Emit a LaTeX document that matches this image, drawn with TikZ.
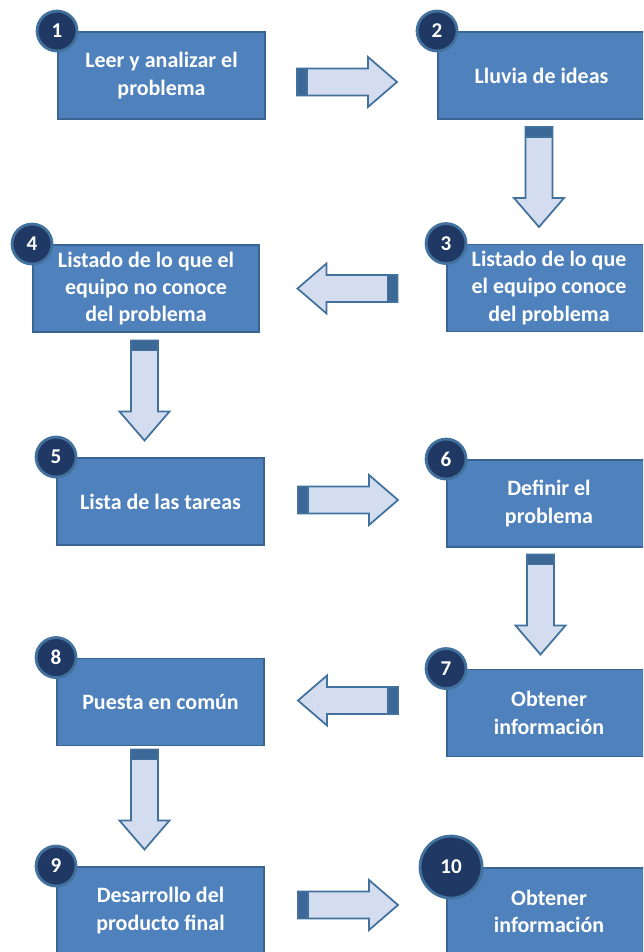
\documentclass[tikz,border=0pt]{standalone}
\usepackage{fontspec}
\setmainfont{Carlito}
\usetikzlibrary{calc}
\definecolor{boxblue}{HTML}{4F81BD}
\definecolor{boxedge}{HTML}{3A6592}
\definecolor{dotblue}{HTML}{1F3864}
\definecolor{dotedge}{HTML}{41719C}
\definecolor{arrowfill}{HTML}{D3DDEF}
\definecolor{arrowedge}{HTML}{41719C}
\definecolor{stubblue}{HTML}{3B6896}
\tikzset{
  stepbox/.style = {draw=boxedge, line width=1.1pt, fill=boxblue, text=white,
    font=\bfseries\fontsize{12.5}{15.6}\selectfont, align=center,
    minimum width=4.14cm, minimum height=1.74cm, inner sep=0pt},
  numdot/.style = {circle, draw=dotedge, line width=1.6pt, fill=dotblue, text=white,
    font=\bfseries\fontsize{12}{12}\selectfont, minimum size=0.8cm, inner sep=0pt},
  blockarrow/.pic = {
    \draw[draw=arrowedge, fill=arrowfill, line width=1pt]
      (-50,-13.5) -- (21,-13.5) -- (21,-25) -- (50,0) -- (21,25) -- (21,13.5) -- (-50,13.5) -- cycle;
    \draw[draw=arrowedge, fill=stubblue, line width=1pt] (-50,-13.5) rectangle (-40,13.5);
  }
}

\begin{document}
\begin{tikzpicture}[x=0.02cm, y=-0.02cm]
\useasboundingbox (0,0) rectangle (643,952);
\fill[white] (0,0) rectangle (643,952);
\clip (0,0) rectangle (643,952);

% pasos
\node[stepbox] (b1) at (161.5,75.5) {Leer y analizar el\\problema};
\node[stepbox] (b2) at (541.5,75.5) {Lluvia de ideas};
\node[stepbox, minimum width=4.08cm] (b3) at (549,288) {Listado de lo que\\el equipo conoce\\del problema};
\node[stepbox, minimum width=4.52cm] (b4) at (146,288.5) {Listado de lo que el\\equipo no conoce\\del problema};
\node[stepbox] (b5) at (160.5,501.5) {Lista de las tareas};
\node[stepbox, minimum width=4.08cm] (b6) at (549,503.5) {Definir el\\problema};
\node[stepbox, minimum width=4.08cm] (b7) at (549,713) {Obtener\\información};
\node[stepbox] (b8) at (160.5,702) {Puesta en común};
\node[stepbox] (b9) at (160.5,910.5) {Desarrollo del\\producto final};
\node[stepbox, minimum width=4.08cm] (b10) at (549,911.5) {Obtener\\información};

% numeros
\foreach \i in {1,...,9}
  \node[numdot] (c\i) at (b\i.north west) {\i};
\node[numdot, minimum size=1.24cm, xshift=0.1cm] (c10) at (b10.north west) {10};

% flechas
\pic at (347,82) {blockarrow};
\pic[rotate=-90] at (539,177) {blockarrow};
\pic[rotate=180] at (347.5,288.5) {blockarrow};
\pic[rotate=-90] at (144.5,390.5) {blockarrow};
\pic at (348,500) {blockarrow};
\pic[rotate=-90] at (540.5,604.5) {blockarrow};
\pic[rotate=180] at (348,700.5) {blockarrow};
\pic[rotate=-90] at (144.5,799.5) {blockarrow};
\pic at (348,905) {blockarrow};
\end{tikzpicture}
\end{document}
